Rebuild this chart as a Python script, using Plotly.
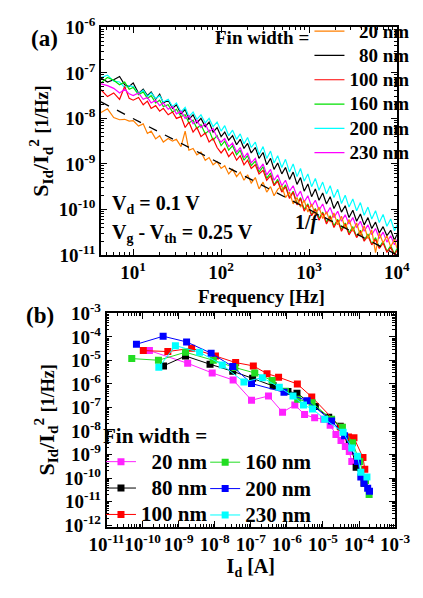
import numpy as np
import plotly.graph_objects as go

# ---------------- panel (a): noise spectra (values read as log10 of S_Id/Id^2) ----------------
freq_hz = [4.3, 5.1, 6, 7, 8, 9, 10, 11.5, 13, 14.5,
           16, 18, 20, 22, 25, 28, 31, 35, 39, 43,
           48, 53, 59, 66, 73, 81, 90, 100, 110, 122,
           135, 150, 165, 182, 200, 220, 245, 270, 300, 330,
           365, 400, 440, 490, 540, 600, 660, 730, 800, 880,
           970, 1070, 1180, 1300, 1430, 1580, 1740, 1920, 2120, 2340,
           2580, 2850, 3150, 3480, 3840, 4240, 4680, 5170, 5710, 6300,
           6960, 7690, 8490, 9380, 10000]

log_s_20nm = [-7.87, -7.79, -7.98, -8.03, -8.02, -8.06, -8.05, -8.17, -8.12, -8.33,
              -8.28, -8.45, -8.38, -8.52, -8.44, -8.50, -8.46, -8.62, -8.28, -8.70,
              -8.66, -8.80, -8.74, -8.92, -8.86, -9.02, -8.95, -9.10, -9.04, -9.22,
              -9.12, -9.28, -9.18, -9.36, -9.24, -9.42, -9.30, -9.55, -9.40, -9.62,
              -9.50, -9.70, -9.56, -9.48, -9.74, -9.62, -9.88, -9.74, -9.95, -9.80,
              -10.06, -9.88, -10.12, -9.95, -10.20, -10.05, -10.28, -10.08, -10.34, -10.15,
              -10.42, -10.22, -10.48, -10.30, -10.58, -10.36, -10.64, -10.45, -10.95, -10.52,
              -10.74, -10.58, -10.82, -10.66, -10.85]
log_s_80nm = [-7.11, -7.20, -7.15, -7.08, -7.26, -7.30, -7.22, -7.45, -7.36, -7.50,
              -7.42, -7.58, -7.47, -7.66, -7.60, -7.78, -7.70, -7.90, -7.80, -8.02,
              -7.92, -8.10, -8.00, -8.18, -8.08, -8.30, -8.20, -8.40, -8.30, -8.48,
              -8.38, -8.58, -8.46, -8.66, -8.55, -8.76, -8.64, -8.88, -8.75, -9.02,
              -8.88, -9.12, -8.98, -9.22, -9.08, -9.34, -9.18, -9.45, -9.30, -9.60,
              -9.44, -9.72, -9.55, -9.80, -9.64, -9.88, -9.72, -9.98, -9.82, -10.06,
              -9.92, -10.18, -10.02, -10.26, -10.10, -10.34, -10.18, -10.42, -10.28, -10.52,
              -10.38, -10.58, -10.46, -10.68, -10.55]
log_s_100nm = [-7.37, -7.52, -7.44, -7.58, -7.30, -7.56, -7.60, -7.54, -7.70, -7.62,
               -7.78, -7.72, -7.84, -7.78, -7.92, -7.86, -8.00, -7.96, -8.20, -8.08,
               -8.30, -8.20, -8.40, -8.32, -8.52, -8.44, -8.64, -8.76, -8.66, -8.84,
               -8.74, -8.92, -8.82, -9.02, -8.92, -9.10, -9.02, -9.22, -9.14, -9.36,
               -9.26, -9.48, -9.38, -9.62, -9.50, -9.76, -9.62, -9.90, -9.76, -10.04,
               -9.90, -10.14, -10.00, -10.24, -10.08, -10.32, -10.16, -10.40, -10.24, -10.48,
               -10.32, -10.56, -10.42, -10.62, -10.48, -10.70, -10.58, -10.78, -10.66, -10.86,
               -10.74, -10.94, -10.84, -11.00, -10.90]
log_s_160nm = [-7.22, -7.10, -7.16, -7.26, -7.20, -7.36, -7.32, -7.48, -7.42, -7.56,
               -7.50, -7.66, -7.60, -7.74, -7.70, -7.86, -7.80, -7.96, -7.92, -8.10,
               -8.04, -8.22, -8.14, -8.34, -8.26, -8.48, -8.38, -8.60, -8.50, -8.70,
               -8.60, -8.80, -8.70, -8.92, -8.82, -9.04, -8.94, -9.18, -9.06, -9.32,
               -9.20, -9.46, -9.34, -9.60, -9.46, -9.74, -9.60, -9.88, -9.74, -10.00,
               -9.88, -10.12, -9.98, -10.20, -10.06, -10.28, -10.14, -10.36, -10.22, -10.44,
               -10.30, -10.52, -10.38, -10.60, -10.46, -10.68, -10.54, -10.76, -10.62, -10.84,
               -10.70, -10.92, -10.80, -10.98, -10.86]
log_s_200nm = [-7.10, -7.05, -7.18, -7.20, -7.32, -7.28, -7.30, -7.46, -7.38, -7.52,
               -7.44, -7.56, -7.50, -7.64, -7.58, -7.74, -7.66, -7.86, -7.76, -7.96,
               -7.86, -8.02, -7.92, -8.10, -8.00, -8.18, -8.08, -8.28, -8.16, -8.38,
               -8.26, -8.46, -8.34, -8.56, -8.42, -8.64, -8.52, -8.80, -8.62, -8.88,
               -8.72, -8.98, -8.82, -9.08, -8.90, -9.18, -9.00, -9.28, -9.10, -9.38,
               -9.22, -9.50, -9.32, -9.58, -9.40, -9.66, -9.48, -9.74, -9.56, -9.87,
               -9.69, -9.95, -9.77, -10.03, -9.85, -10.13, -9.95, -10.21, -10.03, -10.29,
               -10.11, -10.37, -10.21, -10.47, -10.35]
log_s_230nm = [-7.24, -7.28, -7.34, -7.44, -7.36, -7.46, -7.50, -7.44, -7.58, -7.54,
               -7.66, -7.60, -7.72, -7.66, -7.80, -7.74, -7.90, -7.84, -8.00, -7.94,
               -8.12, -8.04, -8.20, -8.12, -8.30, -8.22, -8.42, -8.52, -8.44, -8.62,
               -8.54, -8.74, -8.64, -8.86, -8.76, -8.98, -8.88, -9.12, -9.00, -9.24,
               -9.12, -9.36, -9.24, -9.48, -9.36, -9.60, -9.48, -9.72, -9.60, -9.84,
               -9.70, -9.94, -9.80, -10.02, -9.88, -10.10, -9.96, -10.18, -10.04, -10.26,
               -10.12, -10.32, -10.18, -10.40, -10.26, -10.48, -10.34, -10.56, -10.42, -10.64,
               -10.50, -10.72, -10.58, -10.78, -10.66]

# 1/f guide line (end points)
guide_freq = [4.3, 10000]
guide_val = [2.3e-8, 1.0e-11]

# ---------------- panel (b): S_Id/Id^2 vs Id (log10 values) ----------------
log_id_20nm = [-9.81, -8.75, -8.07, -7.49, -6.98, -6.51, -6.12, -5.78, -5.51, -5.23, -4.98, -4.80, -4.64, -4.50, -4.38, -4.27, -4.20]
log_sb_20nm = [-4.58, -5.12, -5.53, -5.83, -6.69, -6.51, -7.20, -6.89, -7.30, -7.44, -7.50, -7.75, -8.15, -8.40, -8.66, -8.87, -9.30]
log_id_80nm = [-9.42, -8.81, -8.13, -7.50, -6.95, -6.38, -5.97, -5.72, -5.21, -4.84, -4.52, -4.27, -4.08, -3.86]
log_sb_80nm = [-5.23, -4.81, -5.16, -5.46, -5.76, -6.07, -6.32, -6.39, -6.96, -7.41, -7.80, -8.36, -9.54, -10.22]
log_id_100nm = [-9.98, -9.30, -8.64, -7.98, -7.42, -6.93, -6.55, -6.23, -5.71, -5.31, -4.50, -4.29, -4.14, -3.89, -3.84]
log_sb_100nm = [-4.58, -4.62, -4.48, -4.81, -5.09, -5.23, -5.56, -5.71, -6.00, -6.55, -7.84, -8.25, -8.29, -9.13, -9.62]
log_id_160nm = [-10.30, -9.56, -8.81, -8.04, -7.44, -6.89, -6.41, -6.04, -5.70, -5.30, -4.76, -4.46, -4.18, -3.98, -3.82, -3.72]
log_sb_160nm = [-4.92, -4.99, -4.65, -4.99, -5.30, -5.53, -5.85, -6.31, -6.65, -6.80, -7.50, -7.84, -8.50, -9.30, -10.10, -10.70]
log_id_200nm = [-10.17, -9.43, -8.78, -8.10, -7.50, -6.98, -6.08, -5.44, -4.76, -4.40, -4.04, -3.95, -3.86, -3.76, -3.71]
log_sb_200nm = [-4.31, -3.97, -4.21, -4.69, -5.26, -5.98, -6.35, -6.71, -7.57, -8.20, -9.30, -9.95, -10.22, -10.43, -10.56]
log_id_230nm = [-9.55, -9.09, -8.42, -7.79, -7.19, -6.68, -6.21, -5.83, -5.54, -5.29, -4.95, -4.44, -4.20, -4.04, -3.95, -3.78]
log_sb_230nm = [-5.29, -4.37, -4.65, -5.19, -5.91, -5.73, -6.14, -6.51, -6.89, -7.06, -7.50, -8.05, -8.72, -9.07, -9.75, -9.95]

labels = ["20 nm", "80 nm", "100 nm", "160 nm", "200 nm", "230 nm"]

a_ticks = [1e-11, 1e-10, 1e-9, 1e-8, 1e-7, 1e-6]
a_ticktext = ["10<sup>-11</sup>", "10<sup>-10</sup>", "10<sup>-9</sup>", "10<sup>-8</sup>", "10<sup>-7</sup>", "10<sup>-6</sup>"]
f_ticks = [10, 100, 1000, 10000]
f_ticktext = ["10<sup>1</sup>", "10<sup>2</sup>", "10<sup>3</sup>", "10<sup>4</sup>"]
b_yticks = [10.0 ** e for e in range(-12, -2)]
b_yticktext = ["10<sup>%d</sup>" % e for e in range(-12, -2)]
b_xticks = [10.0 ** e for e in range(-11, -2)]
b_xticktext = ["10<sup>%d</sup>" % e for e in range(-11, -2)]

FONT = "Liberation Serif"
NB = "\u00a0"


def leg_label(lbl, size):
    txt = (NB * 2 + lbl) if len(lbl) == 5 else lbl
    return "<span style='font-size:%dpx'>%s</span>" % (size, txt)


fig = go.Figure()

# panel (a) traces (draw order) : 80, 200, 160, 100, 230, 20
colors_a = {"20 nm": "#FF7F00", "80 nm": "#000000", "100 nm": "#FF0000",
            "160 nm": "#00E000", "200 nm": "#00FFFF", "230 nm": "#FF00FF"}
series_a = {"20 nm": log_s_20nm, "80 nm": log_s_80nm, "100 nm": log_s_100nm,
            "160 nm": log_s_160nm, "200 nm": log_s_200nm, "230 nm": log_s_230nm}
for lbl in ["80 nm", "200 nm", "160 nm", "100 nm", "230 nm", "20 nm"]:
    fig.add_trace(go.Scatter(
        x=freq_hz, y=np.power(10.0, series_a[lbl]), mode="lines",
        line=dict(color=colors_a[lbl], width=1.2), name=leg_label(lbl, 19),
        legend="legend", legendrank=labels.index(lbl) + 1,
        xaxis="x", yaxis="y"))
fig.add_trace(go.Scatter(x=guide_freq, y=guide_val, mode="lines",
                         line=dict(color="black", width=1.3, dash="dash"),
                         showlegend=False, xaxis="x", yaxis="y"))

# panel (b)
colors_b = {"20 nm": "#FF22FF", "80 nm": "#000000", "100 nm": "#FF0000",
            "160 nm": "#22DD22", "200 nm": "#0000FF", "230 nm": "#00FFFF"}
series_b = {"20 nm": (log_id_20nm, log_sb_20nm), "80 nm": (log_id_80nm, log_sb_80nm),
            "100 nm": (log_id_100nm, log_sb_100nm), "160 nm": (log_id_160nm, log_sb_160nm),
            "200 nm": (log_id_200nm, log_sb_200nm), "230 nm": (log_id_230nm, log_sb_230nm)}
for lbl in labels:
    lx, ly = series_b[lbl]
    leg = "legend2" if labels.index(lbl) < 3 else "legend3"
    fig.add_trace(go.Scatter(
        x=np.power(10.0, lx), y=np.power(10.0, ly), mode="lines+markers",
        line=dict(color=colors_b[lbl], width=1),
        marker=dict(symbol="square", size=7, color=colors_b[lbl]),
        name=leg_label(lbl, 21), legend=leg, legendrank=labels.index(lbl) + 1,
        xaxis="x2", yaxis="y2"))

W, H = 423, 598
axis_common = dict(type="log", showline=True, linecolor="black", linewidth=1.5,
                   mirror="allticks", ticks="inside", ticklen=6, tickwidth=1.2,
                   tickcolor="black", showgrid=False, zeroline=False,
                   minor=dict(ticks="inside", ticklen=3, tickcolor="black", dtick="D1", showgrid=False),
                   tickfont=dict(family=FONT, size=19, color="black", weight="bold"),
                   tickmode="array", tickangle=0)

ytitle = "S<sub>Id</sub>/I<sub>d</sub><sup>2</sup> <span style='font-size:18px'>[1/Hz]</span>"

fig.update_layout(
    width=W, height=H, margin=dict(l=0, r=0, t=0, b=0),
    paper_bgcolor="white", plot_bgcolor="white",
    font=dict(family=FONT, size=19, color="black", weight="bold"),
    xaxis=dict(axis_common, domain=[90 / W, 411 / W], range=[np.log10(4.3), 4],
               tickvals=f_ticks, ticktext=f_ticktext, anchor="y"),
    yaxis=dict(axis_common, domain=[1 - 252 / H, 1 - 15 / H], range=[-11, -6],
               tickvals=a_ticks, ticktext=a_ticktext, anchor="x",
               title=dict(text=ytitle, standoff=4,
                          font=dict(family=FONT, size=22, weight="bold"))),
    xaxis2=dict(axis_common, domain=[96 / W, 409 / W], range=[-11, -3],
                tickvals=b_xticks, ticktext=b_xticktext, anchor="y2",
                title=dict(text="I<sub>d</sub> [A]", standoff=4,
                           font=dict(family=FONT, size=20, weight="bold"))),
    yaxis2=dict(axis_common, domain=[1 - 535 / H, 1 - 313 / H], range=[-12.06, -3],
                tickvals=b_yticks, ticktext=b_yticktext, anchor="x2",
                title=dict(text=ytitle, standoff=4,
                           font=dict(family=FONT, size=22, weight="bold"))),
    legend=dict(x=430 / W, xanchor="right", y=1 - 1 / H, yanchor="top",
                bgcolor="rgba(0,0,0,0)", borderwidth=0, tracegroupgap=0,
                font=dict(family=FONT, size=16.4, color="black", weight="bold")),
    legend2=dict(x=90 / W, xanchor="left", y=1 - 420 / H, yanchor="top",
                 bgcolor="rgba(0,0,0,0)", borderwidth=0, tracegroupgap=0,
                 font=dict(family=FONT, size=18, color="black", weight="bold"),
                 title=dict(text="Fin width =", side="top",
                            font=dict(family=FONT, size=21, weight="bold"))),
    legend3=dict(x=203 / W, xanchor="left", y=1 - 449 / H, yanchor="top",
                 bgcolor="rgba(0,0,0,0)", borderwidth=0, tracegroupgap=0,
                 font=dict(family=FONT, size=18, color="black", weight="bold")),
    annotations=[
        dict(text="Frequency [Hz]", x=264 / W, y=1 - 295 / H, xref="paper", yref="paper",
             xanchor="center", yanchor="middle", showarrow=False,
             font=dict(family=FONT, size=19, weight="bold")),
        dict(text="Fin width =", x=211 / W, y=1 - 26 / H, xref="paper", yref="paper",
             xanchor="left", yanchor="middle", showarrow=False,
             font=dict(family=FONT, size=19, weight="bold")),
        dict(text="(a)", x=12 / W, y=1 - 27 / H, xref="paper", yref="paper",
             xanchor="left", yanchor="middle", showarrow=False,
             font=dict(family=FONT, size=23, weight="bold")),
        dict(text="(b)", x=7 / W, y=1 - 315 / H, xref="paper", yref="paper",
             xanchor="left", yanchor="middle", showarrow=False,
             font=dict(family=FONT, size=23, weight="bold")),
        dict(text="V<sub>d</sub> = 0.1 V", x=100 / W, y=1 - 200 / H, xref="paper", yref="paper",
             xanchor="left", yanchor="middle", showarrow=False,
             font=dict(family=FONT, size=20, weight="bold")),
        dict(text="V<sub>g</sub> - V<sub>th</sub> = 0.25 V", x=100 / W, y=1 - 230 / H,
             xref="paper", yref="paper", xanchor="left", yanchor="middle", showarrow=False,
             font=dict(family=FONT, size=20, weight="bold")),
        dict(text="1/<i>f</i>", x=298 / W, y=1 - 218 / H, xref="paper", yref="paper",
             xanchor="left", yanchor="middle", showarrow=False,
             font=dict(family=FONT, size=20, weight="bold")),
    ],
)

fig.write_html("out.html")
